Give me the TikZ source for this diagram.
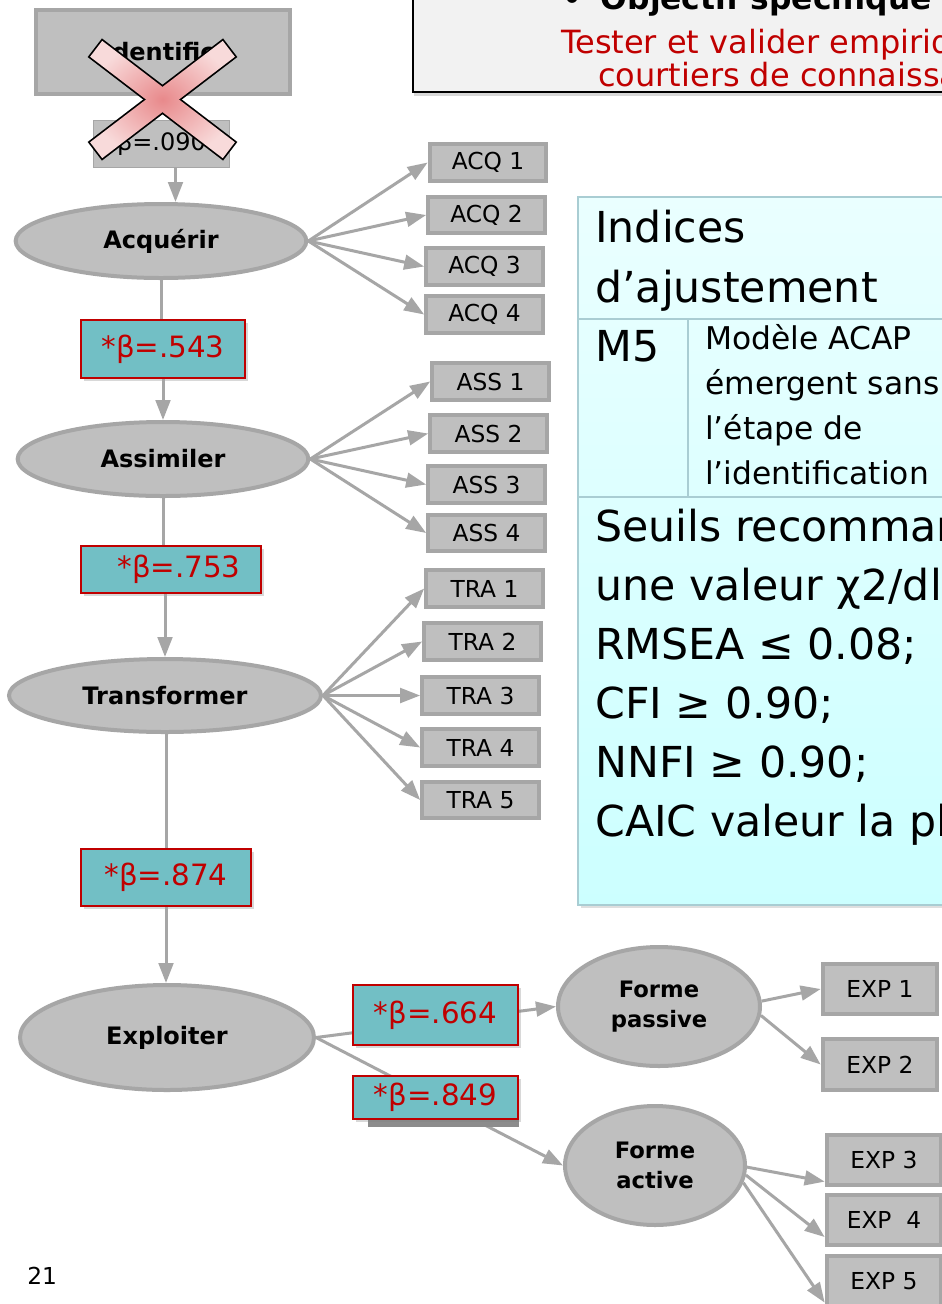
\documentclass[tikz,border=0pt]{standalone}
\usepackage{fontspec}
\setmainfont{DejaVu Sans}
\usetikzlibrary{shapes.geometric, arrows.meta, shadows, positioning}

\definecolor{lineg}{HTML}{A6A6A6}
\definecolor{fillg}{HTML}{BFBFBF}
\definecolor{redc}{HTML}{C00000}
\definecolor{tealc}{HTML}{72BFC5}
\definecolor{crossin}{HTML}{E8898B}
\definecolor{crossout}{HTML}{F8DADA}
\definecolor{tabtop}{HTML}{EAFFFF}
\definecolor{tabbot}{HTML}{CCFFFF}
\definecolor{tabedge}{HTML}{A9CDD3}
\definecolor{topfill}{HTML}{F2F2F2}
\definecolor{backg}{HTML}{8C8C8C}

\newcommand{\fsize}[1]{\fontsize{#1}{#1}\selectfont}

\tikzset{
  txt/.style={anchor=base west, inner sep=0pt},
  latent/.style={ellipse, draw=lineg, fill=fillg, line width=3pt, inner sep=0pt,
    font=\bfseries\fsize{18}},
  item/.style={rectangle, draw=lineg, fill=fillg, line width=3pt, inner sep=0pt,
    minimum width=87.5pt, minimum height=27.5pt, font=\fsize{17.5}},
  expitem/.style={item, minimum width=86pt, minimum height=38pt},
  coef/.style={rectangle, draw=redc, fill=tealc, line width=1.5pt, text=redc,
    font=\fsize{22}, drop shadow={shadow xshift=2.5pt, shadow yshift=-2.5pt, opacity=0.3}},
  link/.style={draw=lineg, line width=2.25pt},
  topbox/.style={draw=black, line width=1.5pt, fill=topfill,
    drop shadow={shadow xshift=1pt, shadow yshift=-3pt, opacity=0.3}},
  tabbox/.style={draw=tabedge, line width=1pt, top color=tabtop, bottom color=tabbot,
    drop shadow={shadow xshift=2pt, shadow yshift=-2.5pt, opacity=0.25}},
  tabline/.style={draw=tabedge, line width=1pt},
}

\begin{document}
\begin{tikzpicture}[x=0.75pt, y=-0.75pt, >={Triangle[length=15pt,width=11pt]}]
\clip (0,0) rectangle (942,1304);
\fill[white] (0,0) rectangle (942,1304);

% bandeau objectif
\draw[topbox] (413,-60) rectangle (990,92);
\node[txt, font=\bfseries\fsize{23.5}] (objtitle) at (562,9) {•\hspace{14pt}Objectif spécifique};
\node[txt, text=redc, font=\fsize{24}] (objline1) at (561,53) {Tester et valider empiriquement};
\node[txt, text=redc, font=\fsize{24}] (objline2) at (598,86) {courtiers de connaissances};

% tableau des indices
\draw[tabbox] (578,197) rectangle (990,905);
\draw[tabline] (578,319) -- (990,319) (578,497) -- (990,497) (688,319) -- (688,497);
\node[txt, font=\fsize{32}] (ind1) at (595,242) {Indices};
\node[txt, font=\fsize{32}] (ind2) at (595,302) {d’ajustement};
\node[txt, font=\fsize{32}] (m5) at (595,361) {M5};
\foreach \t [count=\i from 0] in {Modèle ACAP, émergent sans, l’étape de, l’identification}
  \node[txt, font=\fsize{23.5}] (mod\i) at (705,349+45*\i) {\t};
\foreach \t [count=\i from 0] in {Seuils recommandés, une valeur χ2/dl, RMSEA ≤ 0.08;,
    CFI ≥ 0.90;, NNFI ≥ 0.90;, CAIC valeur la plus faible}
  \node[txt, font=\fsize{32}] (seuil\i) at (595,541+59*\i) {\t};

% etape identification
\node[rectangle, draw=lineg, fill=fillg, line width=3pt, minimum width=190.5pt,
  minimum height=63pt] (ident) at (163,52) {};
\node[txt, font=\bfseries\fsize{18}] (identtxt) at (112,60) {dentific};
\node[rectangle, draw=lineg, fill=fillg, line width=1pt, minimum width=102pt,
  minimum height=35pt, font=\fsize{18}] (b090) at (161.5,144) {β=.090};

% dimensions
\node[latent, minimum width=218pt, minimum height=55.5pt] (acq) at (161,241) {Acquérir};
\node[latent, minimum width=218pt, minimum height=55.5pt] (ass) at (163,459) {Assimiler};
\node[latent, minimum width=234pt, minimum height=54.75pt] (trans) at (165,695.5) {Transformer};
\node[latent, minimum width=220.5pt, minimum height=78.75pt] (expl) at (167,1037.5) {Exploiter};
\node[latent, align=center, font=\bfseries\fontsize{17}{22.5}\selectfont,
  minimum width=151.5pt, minimum height=89.25pt] (fp) at (659,1006.5) {Forme\\passive};
\node[latent, align=center, font=\bfseries\fontsize{17}{22.5}\selectfont,
  minimum width=135pt, minimum height=89.25pt] (fa) at (655,1165.5) {Forme\\active};

% coefficients
\node[coef, minimum width=123pt, minimum height=43.5pt] (b543) at (163,349) {*β=.543};
\node[coef, minimum width=135pt, minimum height=35.25pt] (b753) at (171,569.5) {\hspace{12pt}*β=.753};
\node[coef, minimum width=127.5pt, minimum height=42.75pt] (b874) at (166,877.5) {*β=.874};

% indicateurs
\foreach \i/\x/\y in {1/488/162.5, 2/486.5/215, 3/484.5/266.5, 4/484.5/314.5}
  \node[item] (acq\i) at (\x,\y) {ACQ \i};
\foreach \i/\x/\y in {1/490.5/381.5, 2/488.5/433.5, 3/486.5/484.5, 4/486.5/533}
  \node[item] (ass\i) at (\x,\y) {ASS \i};
\foreach \i/\x/\y in {1/484.5/588.5, 2/482.5/641.5, 3/480.5/695.5, 4/480.5/747.5, 5/480.5/800}
  \node[item] (tra\i) at (\x,\y) {TRA \i};
\node[expitem] (exp1) at (880,989) {EXP 1};
\node[expitem] (exp2) at (880,1064.5) {EXP 2};
\node[expitem] (exp3) at (884,1160) {EXP 3};
\node[expitem] (exp4) at (884,1220) {EXP\ \ 4};
\node[expitem] (exp5) at (884,1281) {EXP 5};

% liens structurels
\draw[link, ->] ([xshift=10.5pt]b090.south) -- ([xshift=10.5pt]b090.south |- acq.north);
\draw[link] (acq) -- (acq |- b543.north);
\draw[link, ->] (b543.south -| ass) -- (ass);
\draw[link] (ass) -- (ass |- b753.north);
\draw[link, ->] (b753.south -| trans) -- (trans);
\draw[link] (trans.south -| b874) -- (b874);
\draw[link, ->] (b874.south) -- (b874.south |- expl.north);
\draw[link, ->] (expl.east) -- (fp.west);
\draw[link, ->] (expl.east) -- (fa.west);
\fill[backg] (368,1085) rectangle (519,1127);
\node[coef, minimum width=123.75pt, minimum height=45pt] (b664) at (435.5,1015) {*β=.664};
\node[coef, minimum width=123.75pt, minimum height=32.25pt] (b849) at (435.5,1097.5) {*β=.849};

% liens de mesure
\foreach \i in {1,...,4} \draw[link, ->] (acq.east) -- (acq\i.west);
\foreach \i in {1,...,4} \draw[link, ->] (ass.east) -- (ass\i.west);
\foreach \i in {1,...,5} \draw[link, ->] (trans.east) -- (tra\i.west);
\draw[link, ->] (fp.3) -- (exp1.west);
\draw[link, ->] (fp.-5) -- (exp2.west);
\draw[link, ->] (fa.-1) -- (exp3.200);
\draw[link, ->] (fa.-6) -- (exp4.196);
\draw[link, ->] (fa.-11) -- (exp5.200);

% croix sur l'identification
\foreach \a in {37.4,-37.4}
  \draw[line width=2.6pt, rotate around={\a:(162.5,99.5)}] (79,89.5) rectangle (246,109.5);
\foreach \a in {37.4,-37.4}
  \shade[inner color=crossin, outer color=crossout, rotate around={\a:(162.5,99.5)}] (79,89.5) rectangle (246,109.5);

\node[txt, font=\fsize{17.5}] (pnum) at (27,1284) {21};
\end{tikzpicture}
\end{document}
